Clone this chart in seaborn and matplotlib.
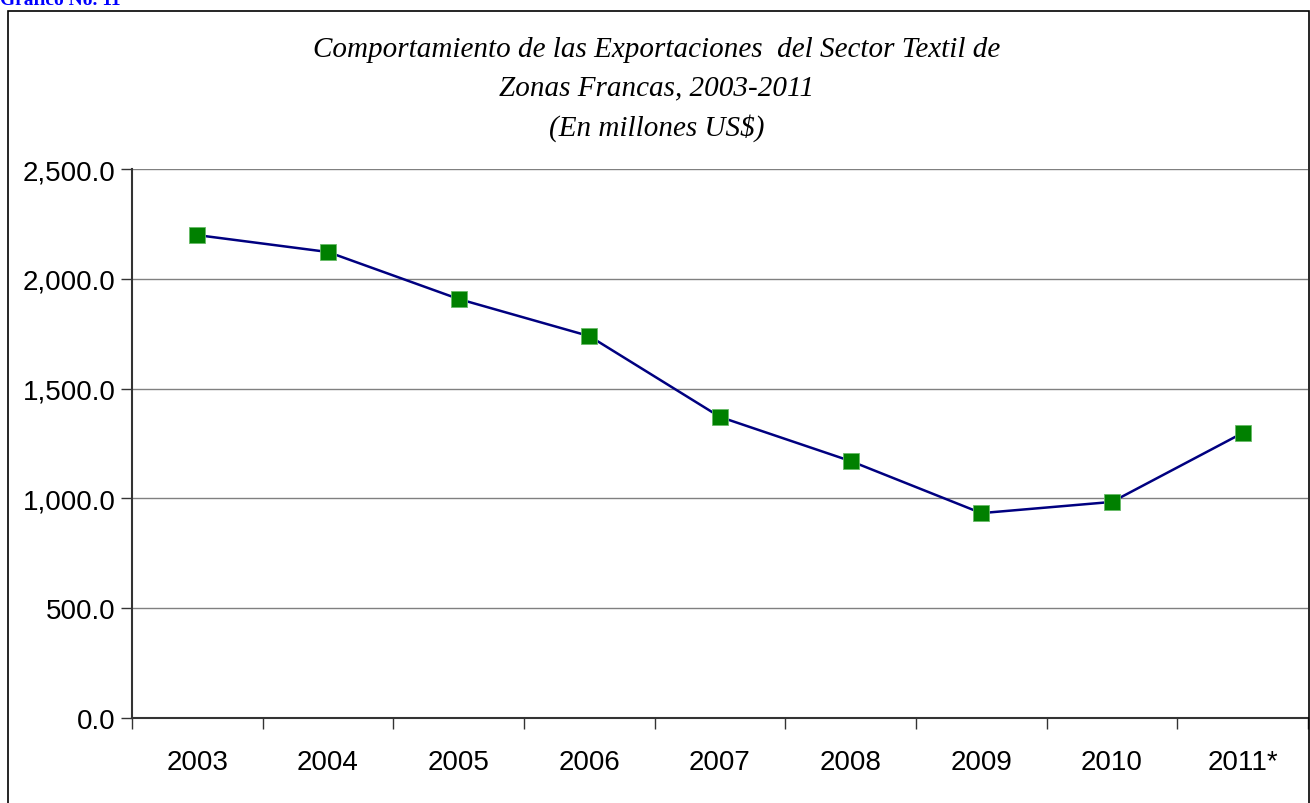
import matplotlib
matplotlib.use("Agg")
import matplotlib.pyplot as plt
import numpy as np
import pandas as pd
import seaborn as sns
from matplotlib.patches import Rectangle
from matplotlib.ticker import FuncFormatter

# datos
years = ["2003", "2004", "2005", "2006", "2007", "2008", "2009", "2010", "2011*"]
exports = [2199, 2122, 1908, 1739, 1371, 1170, 933, 984, 1298]
y_ticks = [0, 500, 1000, 1500, 2000, 2500]

df = pd.DataFrame({"year": years, "value": exports})

sns.set_style("white")
plt.rcParams["font.family"] = ["Liberation Sans", "DejaVu Sans"]
plt.rcParams["text.color"] = "black"

fig = plt.figure(figsize=(13.1, 8.04), dpi=100)
ax = fig.add_axes([132 / 1310, 1 - 719 / 804, (1308 - 132) / 1310, (719 - 170) / 804])

sns.lineplot(data=df, x="year", y="value", ax=ax, color="#000080", linewidth=1.8,
             marker="s", markersize=11, markerfacecolor="#008000",
             markeredgecolor="#66bb66", markeredgewidth=0.6, sort=False)

ax.set_xlim(-0.5, len(years) - 0.5)
ax.set_ylim(0, 2500)
ax.set_yticks(y_ticks)
ax.yaxis.set_major_formatter(FuncFormatter(lambda v, p: f"{v:,.1f}"))
ax.grid(axis="y", color="#808080", linewidth=1)
ax.set_axisbelow(True)

# ticks x: marcas entre categorias, etiquetas centradas
ax.set_xticks(np.arange(-0.5, len(years), 1.0))
ax.set_xticklabels([])
ax.set_xticks(np.arange(len(years)), minor=True)
ax.set_xticklabels(years, minor=True)
ax.tick_params(axis="x", which="major", direction="out", length=8, width=1, color="#333333")
ax.tick_params(axis="x", which="minor", length=0, pad=22, labelsize=20, labelcolor="black")
ax.tick_params(axis="y", direction="out", length=8, width=1, color="#333333",
               labelsize=20, labelcolor="black", pad=4)
ax.tick_params(left=True, bottom=True)

ax.set_xlabel("")
ax.set_ylabel("")
for s in ["top", "right"]:
    ax.spines[s].set_visible(False)
ax.spines["left"].set_color("#333333")
ax.spines["bottom"].set_color("#333333")
ax.spines["left"].set_linewidth(1.5)
ax.spines["bottom"].set_linewidth(1.5)

# marco exterior
fig.patches.append(Rectangle((8 / 1310, -0.01), (1309 - 8) / 1310, 1.01 - 12 / 804,
                             transform=fig.transFigure, fill=False, edgecolor="black",
                             linewidth=1.2, clip_on=False))

title_lines = ["Comportamiento de las Exportaciones  del Sector Textil de",
               "Zonas Francas, 2003-2011",
               "(En millones US$)"]
for line, ypix in zip(title_lines, [50, 88, 128]):
    fig.text(657 / 1310, 1 - ypix / 804, line, ha="center", va="center", fontsize=21,
             style="italic", family="Liberation Serif", color="black")

fig.text(0.0, 1 - 5 / 804, "Gráfico No. 11", ha="left", va="baseline", fontsize=14,
         fontweight="bold", color="#0000ff", family="Liberation Serif")

fig.savefig("out.png", dpi=100)
